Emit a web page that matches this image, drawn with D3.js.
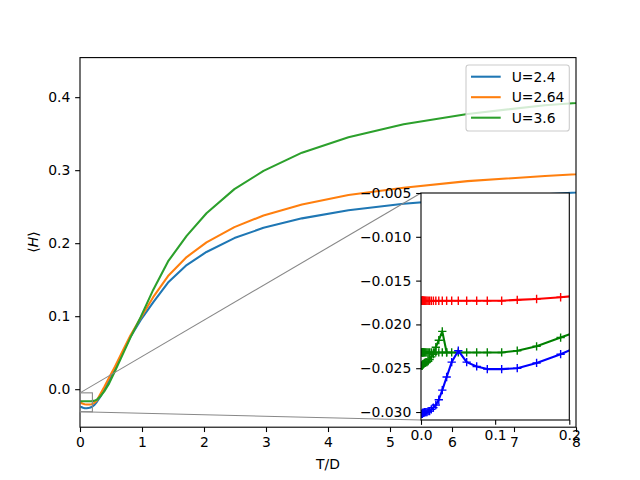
<!DOCTYPE html>
<html><head><meta charset="utf-8">
<script src="https://cdn.jsdelivr.net/npm/d3@7"></script>
<style>body{margin:0;background:#fff} text{font-family:"DejaVu Sans",sans-serif;}</style>
</head><body><svg id="c" width="640" height="480"></svg>
<script>
// ---- main chart data ----
const mainT = [0.002, 0.02, 0.05, 0.0751, 0.1088, 0.1559, 0.1883, 0.226, 0.271, 0.326, 0.391, 0.47, 0.565, 0.68, 0.815, 0.98, 1.18, 1.42, 1.72, 2.04, 2.49, 2.96, 3.58, 4.33, 5.22, 6.25, 7.5, 9.0];
const hU24  = [-0.024, -0.0245, -0.0255, -0.026, -0.026, -0.0255, -0.0245, -0.022, -0.0175, -0.0105, -0.001, 0.012, 0.029, 0.049, 0.072, 0.095, 0.119, 0.146, 0.170, 0.188, 0.207, 0.221, 0.234, 0.245, 0.254, 0.261, 0.267, 0.274];
const hU264 = [-0.0187, -0.019, -0.020, -0.0205, -0.021, -0.021, -0.0205, -0.019, -0.0155, -0.007, 0.003, 0.016, 0.031, 0.051, 0.074, 0.098, 0.126, 0.155, 0.181, 0.201, 0.222, 0.238, 0.253, 0.266, 0.276, 0.285, 0.292, 0.299];
const hU36  = [-0.0164, -0.0164, -0.0164, -0.0164, -0.0164, -0.0164, -0.0163, -0.016, -0.0145, -0.010, -0.003, 0.008, 0.025, 0.046, 0.071, 0.099, 0.136, 0.175, 0.210, 0.241, 0.274, 0.299, 0.324, 0.345, 0.363, 0.377, 0.389, 0.398];
const seriesNames = ["U=2.4", "U=2.64", "U=3.6"];
const seriesColors = ["#1f77b4", "#ff7f0e", "#2ca02c"];
const xTicks = [0, 1, 2, 3, 4, 5, 6, 7, 8];
const yTicks = [0.0, 0.1, 0.2, 0.3, 0.4];
const xLabel = "T/D";

// ---- inset data ----
const insetT = [0.0011, 0.0013, 0.0016, 0.0019, 0.0022, 0.0027, 0.0032, 0.0039, 0.0047, 0.0056, 0.0067, 0.0081, 0.0097, 0.0116, 0.0139, 0.0167, 0.0200, 0.0240, 0.0287, 0.0346, 0.0414, 0.0503, 0.0616, 0.0751, 0.0894, 0.1088, 0.1298, 0.1559, 0.1883, 0.2260];
const insetRed = [-0.0173, -0.0173, -0.0173, -0.0173, -0.0173, -0.0173, -0.0173, -0.0173, -0.0173, -0.0173, -0.0173, -0.0173, -0.0173, -0.0173, -0.0173, -0.0173, -0.0173, -0.0173, -0.0173, -0.0173, -0.0173, -0.0173, -0.0173, -0.0173, -0.0173, -0.0173, -0.0172, -0.0171, -0.0169, -0.0166];
const insetGreenA = [-0.0232, -0.0232, -0.0232, -0.0232, -0.0232, -0.0232, -0.0232, -0.0232, -0.0232, -0.0232, -0.0232, -0.0232, -0.0232, -0.0232, -0.0232, -0.0232, -0.0232, -0.0232, -0.0232, -0.0232, -0.0232, -0.0232, -0.0232, -0.0232, -0.0232, -0.0232, -0.0230, -0.0225, -0.0215, -0.0203];
const insetGreenB = [-0.0247, -0.0247, -0.0247, -0.0246, -0.0246, -0.0246, -0.0245, -0.0245, -0.0244, -0.0244, -0.0243, -0.0243, -0.0242, -0.0240, -0.0237, -0.0234, -0.0226, -0.0218, -0.0208, -0.0232];
const insetBlue = [-0.0302, -0.0302, -0.0302, -0.0302, -0.0301, -0.0301, -0.0301, -0.0301, -0.0300, -0.0300, -0.0300, -0.0300, -0.0299, -0.0299, -0.0297, -0.0295, -0.0292, -0.0286, -0.0275, -0.0260, -0.0243, -0.0230, -0.0243, -0.0248, -0.0251, -0.0251, -0.0250, -0.0244, -0.0234, -0.0220];
const insetXTicks = [0.0, 0.1, 0.2];
const insetYTicks = [-0.005, -0.010, -0.015, -0.020, -0.025, -0.030];

// ---- layout ----
const svg = d3.select("#c");
const FS = "13.9px";
const M = {l: 80, r: 576, t: 57.6, b: 427.2};
const I = {l: 421, r: 569.3, t: 193, b: 420};
const x = d3.scaleLinear().domain([0, 8]).range([M.l, M.r]);
const y = d3.scaleLinear().domain([-0.05205, 0.4542]).range([M.b, M.t]);
const ix = d3.scaleLinear().domain([0, 0.2]).range([I.l, I.r]);
const iy = d3.scaleLinear().domain([-0.03091, -0.005]).range([I.b, I.t]);

const defs = svg.append("defs");
defs.append("clipPath").attr("id", "cm").append("rect")
  .attr("x", M.l).attr("y", M.t).attr("width", M.r - M.l).attr("height", M.b - M.t);
defs.append("clipPath").attr("id", "ci").append("rect")
  .attr("x", I.l).attr("y", I.t).attr("width", I.r - I.l).attr("height", I.b - I.t);

function styleAxis(g) {
  g.select(".domain").remove();
  g.selectAll(".tick line").attr("stroke", "#000").attr("stroke-width", 1.1);
  g.selectAll(".tick text").attr("font-size", FS).attr("fill", "#000").attr("font-family", "DejaVu Sans");
}

// main axes
const TS = 4.86, TP = 4.86;
svg.append("g").attr("transform", `translate(0,${M.b})`)
  .call(d3.axisBottom(x).tickValues(xTicks).tickFormat(d3.format("d")).tickSize(TS).tickPadding(TP))
  .call(styleAxis);
svg.append("g").attr("transform", `translate(${M.l},0)`)
  .call(d3.axisLeft(y).tickValues(yTicks).tickFormat(d3.format(".1f")).tickSize(TS).tickPadding(TP))
  .call(styleAxis);

const mainSeries = [hU24, hU264, hU36];
const lineMain = d3.line().x(d => x(d[0])).y(d => y(d[1]));
const gm = svg.append("g").attr("clip-path", "url(#cm)");
mainSeries.forEach((vals, k) => {
  gm.append("path").datum(mainT.map((t, i) => [t, vals[i]]))
    .attr("d", lineMain).attr("fill", "none").attr("stroke", seriesColors[k])
    .attr("stroke-width", 2.08).attr("stroke-linejoin", "round").attr("stroke-linecap", "butt");
});

svg.append("rect").attr("x", M.l).attr("y", M.t).attr("width", M.r - M.l).attr("height", M.b - M.t)
  .attr("fill", "none").attr("stroke", "#000").attr("stroke-width", 1.1);

// zoom indicator
const zx0 = x(ix.domain()[0]), zx1 = x(ix.domain()[1]);
const zy0 = y(iy.domain()[1]), zy1 = y(iy.domain()[0]);
svg.append("rect").attr("x", zx0).attr("y", zy0).attr("width", zx1 - zx0).attr("height", zy1 - zy0)
  .attr("fill", "none").attr("stroke", "#888").attr("stroke-width", 1.1);
svg.append("line").attr("x1", zx0).attr("y1", zy0).attr("x2", I.l).attr("y2", I.t)
  .attr("stroke", "#888").attr("stroke-width", 1.1);
svg.append("line").attr("x1", zx0).attr("y1", zy1).attr("x2", I.l).attr("y2", I.b)
  .attr("stroke", "#888").attr("stroke-width", 1.1);

// axis labels
svg.append("text").attr("x", (M.l + M.r) / 2).attr("y", 469).attr("text-anchor", "middle")
  .attr("font-size", FS).text(xLabel);
const yl = svg.append("text").attr("transform", "translate(38,242) rotate(-90)")
  .attr("text-anchor", "middle").attr("font-size", FS);
yl.append("tspan").text("⟨");
yl.append("tspan").attr("font-style", "italic").text("H");
yl.append("tspan").text("⟩");

// legend
const lg = svg.append("g");
lg.append("rect").attr("x", 466).attr("y", 65).attr("width", 103.3).attr("height", 66).attr("rx", 2.8)
  .attr("fill", "#fff").attr("fill-opacity", 0.8).attr("stroke", "#cccccc").attr("stroke-width", 1.1);
seriesNames.forEach((n, k) => {
  const cy = 76.7 + k * 20.5;
  lg.append("line").attr("x1", 471).attr("x2", 500.7).attr("y1", cy).attr("y2", cy)
    .attr("stroke", seriesColors[k]).attr("stroke-width", 2.08);
  lg.append("text").attr("x", 511.7).attr("y", cy + 5).attr("font-size", FS).text(n);
});

// inset
svg.append("rect").attr("x", I.l).attr("y", I.t).attr("width", I.r - I.l).attr("height", I.b - I.t)
  .attr("fill", "#fff");
const gi = svg.append("g").attr("clip-path", "url(#ci)");
const lineI = d3.line().x(d => ix(d[0])).y(d => iy(d[1]));
const insetSeries = [
  {vals: insetRed, color: "#ff0000"},
  {vals: insetGreenA, color: "#008000"},
  {vals: insetGreenB, color: "#008000"},
  {vals: insetBlue, color: "#0000ff"}
];
const ms = 4.15;
insetSeries.forEach(s => {
  const pts = s.vals.map((v, i) => [insetT[i], v]);
  gi.append("path").datum(pts).attr("d", lineI).attr("fill", "none").attr("stroke", s.color)
    .attr("stroke-width", 2.08).attr("stroke-linejoin", "round");
  gi.selectAll(null).data(pts).enter().append("path")
    .attr("transform", d => `translate(${ix(d[0])},${iy(d[1])})`)
    .attr("d", `M${-ms},0H${ms}M0,${-ms}V${ms}`)
    .attr("stroke", s.color).attr("stroke-width", 1.39).attr("fill", "none");
});
svg.append("rect").attr("x", I.l).attr("y", I.t).attr("width", I.r - I.l).attr("height", I.b - I.t)
  .attr("fill", "none").attr("stroke", "#000").attr("stroke-width", 1.1);
svg.append("g").attr("transform", `translate(0,${I.b})`)
  .call(d3.axisBottom(ix).tickValues(insetXTicks).tickFormat(d3.format(".1f")).tickSize(TS).tickPadding(TP))
  .call(styleAxis);
svg.append("g").attr("transform", `translate(${I.l},0)`)
  .call(d3.axisLeft(iy).tickValues(insetYTicks).tickFormat(d3.format(".3f")).tickSize(TS).tickPadding(TP))
  .call(styleAxis);
</script></body></html>
